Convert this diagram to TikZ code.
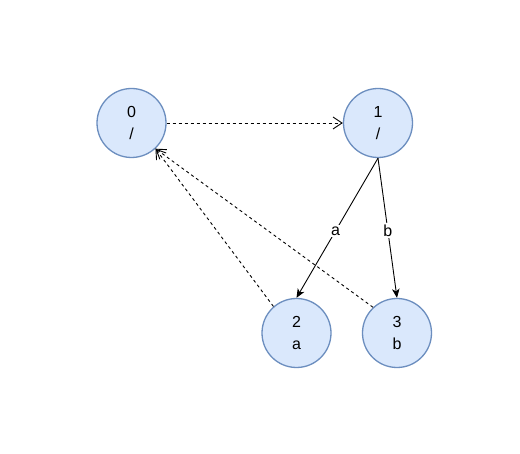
\documentclass[tikz,border=0pt]{standalone}
\usepackage{fontspec}
\setmainfont{Liberation Sans}
\usetikzlibrary{arrows.meta}
\definecolor{nodefill}{HTML}{DAE8FC}
\definecolor{nodeline}{HTML}{6C8EBF}
\begin{document}
\begin{tikzpicture}[x=1pt,y=-1pt,
  state/.style={circle,draw=nodeline,fill=nodefill,line width=1.3pt,minimum size=69pt,inner sep=0pt,
    align=center,font=\fontsize{16}{22}\selectfont},
  solidedge/.style={draw=black,line width=0.9pt,-{Stealth[length=9pt,width=7.5pt,inset=2.5pt]}},
  dashedge/.style={draw=black,line width=0.9pt,dash pattern=on 3pt off 3pt,-{Straight Barb[length=9pt,width=12pt,line width=0.9pt]}},
  lbl/.style={fill=white,inner sep=1.5pt,font=\fontsize{16}{18}\selectfont}]
\useasboundingbox (0,0) rectangle (520,454);
\fill[white] (0,0) rectangle (520,454);
\node[state] (n0) at (131.5,123) {0\\/};
\node[state] (n1) at (378,123) {1\\/};
\node[state] (n2) at (296.5,333) {2\\a};
\node[state] (n3) at (397,333) {3\\b};
\draw[dashedge] (n0) -- (n1);
\draw[solidedge] (n1.south) -- node[lbl,pos=0.52] {a} (n2.north);
\draw[solidedge] (n1.south) -- node[lbl,pos=0.52] {b} (n3.north);
\draw[dashedge] (n2.131) -- (n0.-47);
\draw[dashedge] (n3.133) -- (n0.-47);
\end{tikzpicture}
\end{document}
